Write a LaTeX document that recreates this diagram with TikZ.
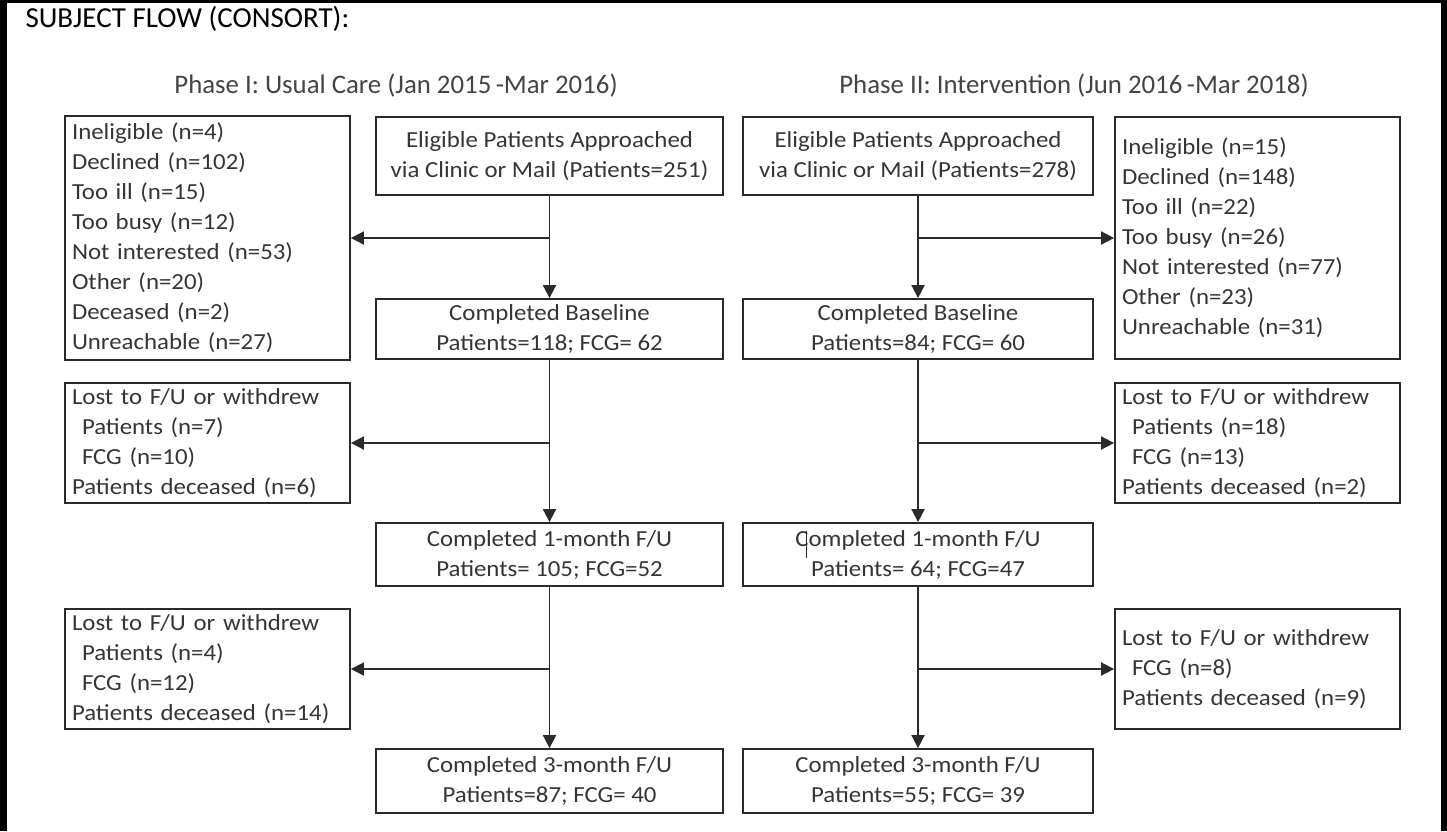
\documentclass[tikz,border=0pt]{standalone}
\usepackage{fontspec}
\setmainfont{Carlito}
\newfontfamily\boxfont[FakeStretch=1.08]{Carlito}
\usetikzlibrary{arrows.meta,calc}
\definecolor{boxline}{HTML}{2A2A2A}
\definecolor{boxtext}{HTML}{353535}
\definecolor{titletext}{HTML}{444444}
\begin{document}
\begin{tikzpicture}[x=1pt,y=-1pt,
  basebox/.style={draw=boxline, line width=1.8pt, inner sep=0pt, text=boxtext,
    font=\boxfont\fontsize{23}{30}\selectfont},
  midbox/.style={basebox, align=center, minimum width=347pt},
  sidebox/.style={basebox, align=left, text width=271pt, inner xsep=7pt, minimum width=285pt},
  arr/.style={draw=boxline, line width=1.8pt, -{Triangle[length=13pt,width=13pt]}},
  titlestyle/.style={anchor=base, text=titletext, font=\fontsize{26.8}{31}\selectfont}
]
\useasboundingbox (0,0) rectangle (1447,831);
% outer frame
\fill[black] (0,0) rectangle (7,831);
\fill[black] (0,0) rectangle (1447,3);
\fill[black] (1441,0) rectangle (1447,831);

\node[anchor=base west, font=\fontsize{29}{35}\selectfont] (hdr) at (22,27) {SUBJECT FLOW (CONSORT):};
\node[titlestyle] (t1) at (396,93) {Phase I: Usual Care (Jan 2015\thinspace-Mar 2016)};
\node[titlestyle] (t2) at (1074,93) {Phase II: Intervention (Jun 2016\thinspace-Mar 2018)};

% left column
\node[sidebox, minimum height=244pt] (inel1) at (207.5,238) {Ineligible (n=4)\\Declined (n=102)\\Too ill (n=15)\\Too busy (n=12)\\Not interested (n=53)\\Other (n=20)\\Deceased (n=2)\\Unreachable (n=27)};
\node[midbox, minimum height=78pt] (elig1) at (549.5,156) {Eligible Patients Approached\\via Clinic or Mail (Patients=251)};
\node[midbox, minimum height=60pt] (base1) at (549.5,329) {Completed Baseline\\Patients=118; FCG= 62};
\node[sidebox, minimum height=120pt] (lost1a) at (207.5,443) {Lost to F/U or withdrew\\\hspace*{10pt}Patients (n=7)\\\hspace*{10pt}FCG (n=10)\\Patients deceased (n=6)};
\node[midbox, minimum height=63pt] (m1a) at (549.5,554.5) {Completed 1-month F/U\\Patients= 105; FCG=52};
\node[sidebox, minimum height=120pt] (lost1b) at (207.5,669) {Lost to F/U or withdrew\\\hspace*{10pt}Patients (n=4)\\\hspace*{10pt}FCG (n=12)\\Patients deceased (n=14)};
\node[midbox, minimum height=64pt] (m3a) at (549.5,781) {Completed 3-month F/U\\Patients=87; FCG= 40};

% right column
\node[midbox, minimum width=350pt, minimum height=78pt] (elig2) at (918,156) {Eligible Patients Approached\\via Clinic or Mail (Patients=278)};
\node[midbox, minimum width=350pt, minimum height=60pt] (base2) at (918,329) {Completed Baseline\\Patients=84; FCG= 60};
\node[midbox, minimum width=350pt, minimum height=63pt] (m1b) at (918,554.5) {Completed 1-month F/U\\Patients= 64; FCG=47};
\node[midbox, minimum width=350pt, minimum height=64pt] (m3b) at (918,781) {Completed 3-month F/U\\Patients=55; FCG= 39};
\node[sidebox, minimum height=242pt] (inel2) at (1257.5,238) {Ineligible (n=15)\\Declined (n=148)\\Too ill (n=22)\\Too busy (n=26)\\Not interested (n=77)\\Other (n=23)\\Unreachable (n=31)};
\node[sidebox, minimum height=120pt] (lost2a) at (1257.5,443) {Lost to F/U or withdrew\\\hspace*{10pt}Patients (n=18)\\\hspace*{10pt}FCG (n=13)\\Patients deceased (n=2)};
\node[sidebox, minimum height=120pt] (lost2b) at (1257.5,669) {Lost to F/U or withdrew\\\hspace*{10pt}FCG (n=8)\\Patients deceased (n=9)};

% connectors left
\draw[arr] (elig1.south) -- (base1.north);
\draw[arr] (elig1.south |- inel1.east) -- (inel1.east);
\draw[arr] (base1.south) -- (m1a.north);
\draw[arr] (base1.south |- lost1a.east) -- (lost1a.east);
\draw[arr] (m1a.south) -- (m3a.north);
\draw[arr] (m1a.south |- lost1b.east) -- (lost1b.east);
% connectors right
\draw[arr] (elig2.south) -- (base2.north);
\draw[arr] (elig2.south |- inel2.west) -- (inel2.west);
\draw[arr] (base2.south) -- (m1b.north);
\draw[arr] (base2.south |- lost2a.west) -- (lost2a.west);
\draw[arr] (m1b.south) -- (m3b.north);
\draw[arr] (m1b.south |- lost2b.west) -- (lost2b.west);

% stray text cursor mark
\draw[boxline, line width=1pt] ($(m1b.center)+(-112,-24)$) -- ($(m1b.center)+(-112,3)$);
\end{tikzpicture}
\end{document}
